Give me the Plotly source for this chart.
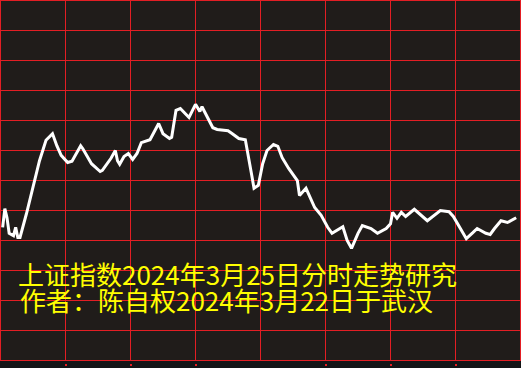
import plotly.graph_objects as go

# Intraday time (minutes from open) and index values
minutes = [1, 2, 3, 4, 6, 7, 8, 9, 12, 15, 18, 21, 24, 26, 28, 31, 33, 37, 38, 42,
           46, 47, 51, 53, 54, 55, 57, 59, 61, 63, 65, 69, 73, 75, 78, 79, 81, 83, 87, 90,
           92, 93, 96, 98, 100, 105, 107, 110, 113, 114, 116, 117, 119, 121, 123, 126, 128, 130, 133, 137,
           138, 141, 145, 148, 151, 153, 158, 160, 162, 165, 167, 171, 174, 178, 180, 181, 183, 185, 187, 191,
           195, 197, 203, 207, 209, 212, 215, 218, 220, 224, 226, 228, 231, 234, 238]
values = [3022.2, 3025.3, 3023.8, 3021.2, 3020.8, 3022.2, 3020.5, 3020.5, 3024.5, 3028.7,
          3033.3, 3036.7, 3037.8, 3035.8, 3034.2, 3033.0, 3033.2, 3035.8, 3035.3, 3032.8,
          3031.5, 3031.7, 3033.7, 3035.0, 3033.3, 3032.7, 3034.0, 3034.5, 3033.5, 3034.5,
          3036.3, 3036.8, 3039.5, 3037.8, 3037.0, 3037.2, 3041.7, 3042.0, 3040.5, 3042.7,
          3041.5, 3042.3, 3040.3, 3038.8, 3038.5, 3038.3, 3037.8, 3037.0, 3036.8, 3035.0,
          3030.8, 3028.7, 3029.2, 3032.8, 3035.0, 3036.0, 3035.7, 3033.8, 3032.0, 3030.0,
          3027.5, 3028.7, 3025.5, 3024.2, 3022.2, 3021.2, 3022.3, 3020.0, 3018.7, 3021.2,
          3022.5, 3022.0, 3021.2, 3022.0, 3022.8, 3024.7, 3023.7, 3024.7, 3024.0, 3025.2,
          3024.0, 3023.3, 3025.0, 3024.8, 3024.0, 3022.2, 3020.3, 3021.3, 3022.0, 3021.2,
          3021.0, 3022.0, 3023.3, 3023.0, 3023.8]

bottom_ticks = [30, 60, 90, 150, 180, 210]
title_lines = ["上证指数2024年3月25日分时走势研究", "作者：陈自权2024年3月22日于武汉"]

RED = "#e31e24"
BG = "#201c1a"
STRIP = "#131416"
YELLOW = "#ffff00"

fig = go.Figure()
fig.add_trace(go.Scatter(x=minutes, y=values, mode="lines",
                         line=dict(color="white", width=3),
                         hoverinfo="skip", showlegend=False))
fig.add_trace(go.Scatter(x=[], y=[], xaxis="x2", yaxis="y",
                         hoverinfo="skip", showlegend=False))

W, H = 521, 368
ml, mr, mt, mb = 1, 1, 1, 0
plot_h = H - mt - mb

fig.update_layout(
    width=W, height=H,
    margin=dict(l=ml, r=mr, t=mt, b=mb, pad=0),
    paper_bgcolor=STRIP,
    plot_bgcolor=BG,
    showlegend=False,
    xaxis=dict(range=[0.23, 239.77], tick0=0, dtick=30, showgrid=True,
               gridcolor=RED, gridwidth=1, zeroline=False, showticklabels=False,
               ticks="", showline=True, mirror=True, linecolor=RED, linewidth=1,
               fixedrange=True),
    xaxis2=dict(range=[0.23, 239.77], overlaying="x", anchor="free",
                position=1 - 365 / plot_h, tickvals=bottom_ticks, ticks="inside",
                ticklen=2, tickwidth=2, tickcolor=RED, showgrid=False,
                zeroline=False, showline=False, showticklabels=False, fixedrange=True),
    yaxis=dict(range=[3000.083, 3059.917], tick0=3000, dtick=5, showgrid=True,
               gridcolor=RED, gridwidth=1, zeroline=False, showticklabels=False,
               ticks="", showline=True, mirror=True, linecolor=RED, linewidth=1,
               domain=[(H - 360) / plot_h, 1], fixedrange=True),
)

font = dict(family="Noto Sans CJK SC", size=26, color=YELLOW)
fig.add_annotation(text=title_lines[0], xref="paper", yref="paper",
                   x=15 / (W - ml - mr), y=(H - 273.5) / plot_h,
                   xanchor="left", yanchor="middle", showarrow=False, font=font)
fig.add_annotation(text=title_lines[1], xref="paper", yref="paper",
                   x=17 / (W - ml - mr), y=(H - 299.5) / plot_h,
                   xanchor="left", yanchor="middle", showarrow=False, font=font)

fig.write_html("out.html", config={"displayModeBar": False, "staticPlot": True})
